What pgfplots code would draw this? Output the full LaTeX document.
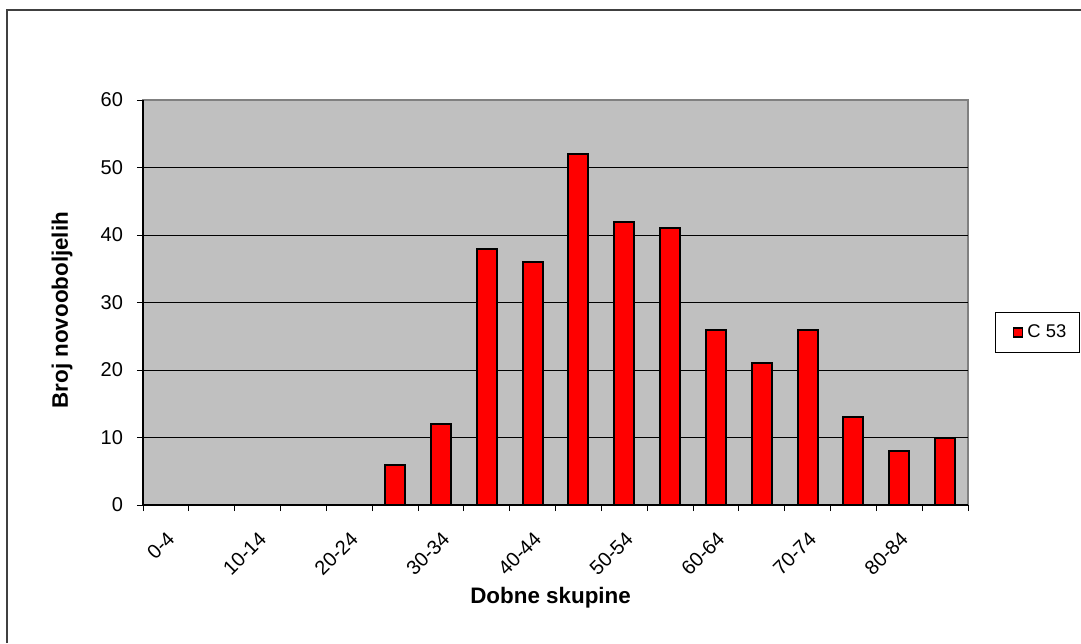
\documentclass[border=0pt]{standalone}
\usepackage{pgfplots}
\pgfplotsset{compat=1.18}
\usepackage{fontspec}
\setmainfont{Liberation Sans}
\definecolor{plotbg}{RGB}{192,192,192}
\definecolor{plotborder}{RGB}{128,128,128}
\definecolor{framecol}{RGB}{64,64,64}
\begin{document}
\begin{tikzpicture}[x=1pt,y=1pt]
\useasboundingbox (0,0) rectangle (540.5,321.5);
\draw[framecol, line width=0.6pt] (3.5,0) -- (3.5,316.5) -- (540.5,316.5);
\begin{axis}[
  at={(71.5pt,69pt)}, anchor=south west,
  width=412.5pt, height=202.5pt, scale only axis,
  xmin=0, xmax=18, ymin=0, ymax=60,
  axis lines=left,
  axis line style={-, black, line width=0.6pt},
  axis background/.style={fill=plotbg, draw=plotborder, line width=1pt},
  ytick={0,10,...,60},
  minor ytick={10,20,30,40,50}, yminorgrids,
  minor y tick style={draw=none},
  minor grid style={black, line width=0.5pt},
  xtick={0.5,2.5,...,16.5},
  xticklabels={0-4,10-14,20-24,30-34,40-44,50-54,60-64,70-74,80-84},
  major x tick style={draw=none},
  minor xtick={0,1,...,18},
  tick align=outside, major tick length=3pt, minor tick length=3pt,
  tick style={black, line width=0.5pt},
  ybar, bar width=10pt, bar shift=0pt,
  tick label style={font=\fontsize{10}{12}\selectfont},
  /pgf/number format/assume math mode=true,
  xticklabel style={xshift=0pt, yshift=-8pt, rotate=45, anchor=north east, inner sep=1pt},
  yticklabel style={xshift=-3.5pt},
  xlabel={Dobne skupine}, ylabel={Broj novooboljelih},
  label style={font=\fontsize{11.2}{13}\selectfont\bfseries},
  xlabel style={at={(axis description cs:0.494,-0.23)}, anchor=center},
  ylabel style={at={(axis description cs:-0.098,0.481)}, anchor=center},
  legend style={at={(axis description cs:1.0327,0.426)}, anchor=west,
    draw=black, line width=0.5pt, font=\fontsize{9.2}{11}\selectfont,
    inner xsep=4.5pt, inner ysep=4pt},
  legend image code/.code={\path (0pt,0pt); \draw[fill=red, draw=black, line width=0.8pt] (4pt,-2.2pt) rectangle (8.6pt,2.2pt);},
]
\addplot[fill=red, draw=black, line width=1pt] coordinates {
  (5.5,6) (6.5,12) (7.5,38) (8.5,36) (9.5,52) (10.5,42) (11.5,41)
  (12.5,26) (13.5,21) (14.5,26) (15.5,13) (16.5,8) (17.5,10)
};
\legend{C 53}
\end{axis}
\end{tikzpicture}
\end{document}
